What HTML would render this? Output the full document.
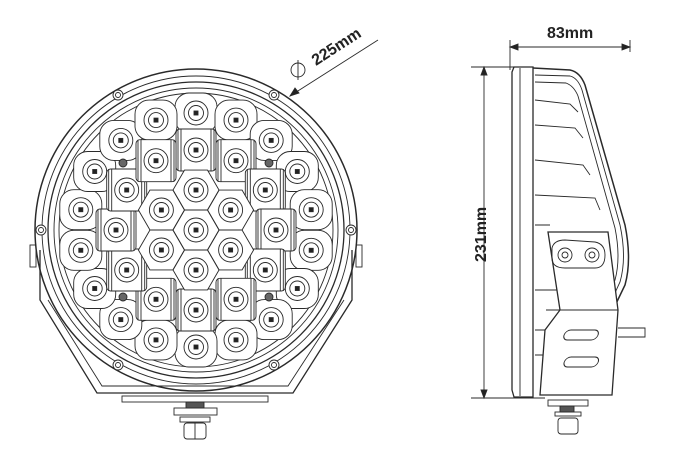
<!DOCTYPE html>
<html><head><meta charset="utf-8"><style>
html,body{margin:0;padding:0;background:#fff;width:690px;height:470px;overflow:hidden}
svg{display:block}
text{font-family:"Liberation Sans",sans-serif;font-weight:bold;font-size:16px;fill:#222;stroke:none}
</style></head><body>
<svg id="s" width="690" height="470" viewBox="0 0 690 470" fill="none" stroke="#2a2a2a" stroke-width="0.9">
<path d="M40,250 L40,300 L97,393 L293,393 L352,300 L352,250" stroke-width="1.3"/>
<path d="M48,300 L102,386 L288,386 L344,300"/>
<rect x="122" y="396" width="146" height="6"/>
<rect x="174" y="408" width="43" height="7"/>
<rect x="186" y="402" width="18" height="6" fill="#555"/>
<rect x="180" y="417" width="30" height="5"/>
<rect x="184" y="423" width="22" height="16" rx="3"/>
<line x1="195" y1="423" x2="195" y2="439"/>
<rect x="30" y="245" width="6" height="22"/><rect x="356" y="245" width="6" height="22"/>
<circle cx="196" cy="230" r="161" stroke-width="1.5"/>
<circle cx="196" cy="230" r="154"/>
<circle cx="196" cy="230" r="148" stroke-width="1.3"/>
<circle cx="196" cy="230" r="142"/>
<circle cx="196" cy="230" r="137"/>
<g id="leds"></g>
<line x1="290" y1="96" x2="378" y2="40"/>
<path d="M290,96 l9,-3 l-4,-5z" fill="#222"/>
<circle cx="298" cy="70" r="7"/><line x1="298" y1="60" x2="298" y2="80"/>
<text transform="translate(316,66) rotate(-33)">225mm</text>
<line x1="510" y1="40" x2="510" y2="70"/><line x1="630" y1="40" x2="630" y2="52"/>
<line x1="510" y1="47" x2="630" y2="47"/>
<path d="M510,47 l8,-3 v6z M630,47 l-8,-3 v6z" fill="#222"/>
<text x="547" y="38">83mm</text>
<line x1="471" y1="67" x2="518" y2="67"/><line x1="471" y1="398" x2="545" y2="398"/>
<line x1="484" y1="67" x2="484" y2="398"/>
<path d="M484,67 l-3,8 h6z M484,398 l-3,-8 h6z" fill="#222"/>
<text transform="translate(486,262) rotate(-90)">231mm</text>
<path d="M514,67 L533,67 L533,397 L514,397 L512,390 L512,72 Z" stroke-width="1.3"/>
<line x1="520" y1="68" x2="520" y2="396"/>
<path d="M533,68 L570,70 Q580,72 585,85 L625,225 Q632,260 625,285 L612,312" stroke-width="1.5"/>
<path d="M535,75 L570,76 Q578,78 582,90 L620,225 Q627,258 620,282 L608,308"/>
<path d="M535,82 L566,83 Q574,86 578,96 L615,228 Q621,258 615,280 L604,305"/>
<path d="M535,100 L570,104 L578,112 M535,125 L575,128 L583,138 M535,160 L583,165 L590,175 M535,195 L595,198 L600,210 M535,225 L550,225 M535,290 L560,290 M535,330 L548,330 M535,355 L548,355"/>
<path d="M548,232 L608,232 L618,310 L612,395 L540,395 L545,330 L560,310 Z" fill="#fff" stroke-width="1.3"/>
<line x1="546" y1="310" x2="618" y2="310"/>
<path d="M552,248 Q554,240 565,240 L595,242 Q605,244 605,255 Q605,268 595,268 L565,268 Q552,268 552,258 Z"/>
<circle cx="565" cy="255" r="7"/><circle cx="565" cy="255" r="3"/>
<circle cx="592" cy="255" r="7"/><circle cx="592" cy="255" r="3"/>
<rect x="566" y="330" width="34" height="10" rx="5" transform="skewX(-20) translate(120,0)"/>
<rect x="566" y="357" width="34" height="10" rx="5" transform="skewX(-20) translate(130,0)"/>
<path d="M618,328 L645,328 L645,337 L618,337"/>
<rect x="548" y="400" width="40" height="6"/><rect x="560" y="406" width="14" height="6" fill="#555"/>
<rect x="555" y="412" width="26" height="4"/><rect x="558" y="418" width="20" height="16" rx="3"/>
</svg>
<script>
var g=document.getElementById('leds'),cx=196,cy=230,h='';
function f(v){return v.toFixed(1);}
function lens(x,y){return '<circle cx="'+f(x)+'" cy="'+f(y)+'" r="12"/><circle cx="'+f(x)+'" cy="'+f(y)+'" r="7.5"/><rect x="'+f(x-2)+'" y="'+f(y-2)+'" width="4" height="4" fill="#222"/>';}
function hex(x,y,r){var p=[];for(var i=0;i<6;i++){var a=Math.PI/3*i;p.push(f(x+r*Math.cos(a))+','+f(y+r*Math.sin(a)));}return '<polygon points="'+p.join(' ')+'" fill="#fff"/>';}
for(var i=0;i<18;i++){var a=(-90+20*i)*Math.PI/180,x=cx+117*Math.cos(a),y=cy+117*Math.sin(a);
h+='<rect x="'+f(x-21)+'" y="'+f(y-20)+'" width="42" height="40" rx="14" fill="#fff"/>'+lens(x,y);}
for(var i=0;i<12;i++){var a=(-90+30*i)*Math.PI/180,x=cx+80*Math.cos(a),y=cy+80*Math.sin(a);
h+='<rect x="'+f(x-20)+'" y="'+f(y-21)+'" width="40" height="42" rx="4" fill="#fff"/>';
for(var k=-18;k<=18;k+=3){if(Math.abs(k)>12)h+='<line x1="'+f(x+k)+'" y1="'+f(y-21)+'" x2="'+f(x+k)+'" y2="'+f(y+21)+'"/>';}
h+=lens(x,y);}
h+=hex(cx,cy,23)+lens(cx,cy);
for(var i=0;i<6;i++){var a=(-90+60*i)*Math.PI/180,x=cx+40*Math.cos(a),y=cy+40*Math.sin(a);h+=hex(x,y,23)+lens(x,y);}
[[-73,-67],[73,-67],[-73,67],[73,67]].forEach(function(p){h+='<circle cx="'+(cx+p[0])+'" cy="'+(cy+p[1])+'" r="4" fill="#666"/>';});
[[-78,-135],[78,-135],[-155,0],[155,0],[-78,135],[78,135]].forEach(function(p){h+='<circle cx="'+(cx+p[0])+'" cy="'+(cy+p[1])+'" r="5" fill="#fff"/><circle cx="'+(cx+p[0])+'" cy="'+(cy+p[1])+'" r="2.5"/>';});
g.innerHTML=h;
</script>
</body></html>
